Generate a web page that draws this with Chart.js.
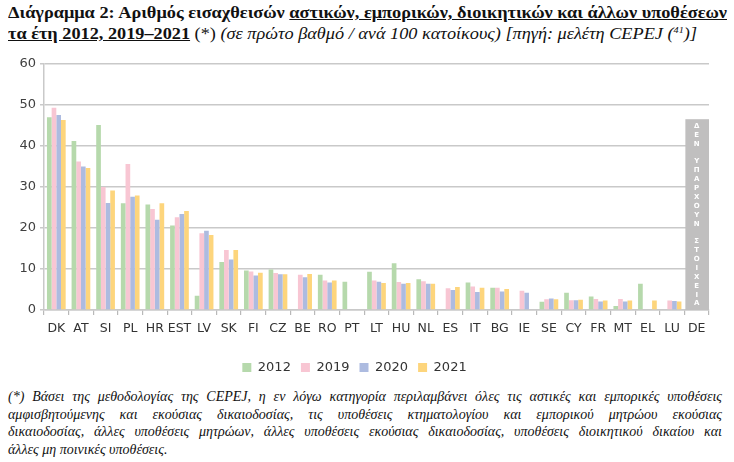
<!DOCTYPE html>
<html>
<head>
<meta charset="utf-8">
<script src="https://cdn.jsdelivr.net/npm/chart.js@4"></script>
<style>
  html,body{margin:0;padding:0;background:#fff;width:734px;height:462px;overflow:hidden;}
  .serif{font-family:"Liberation Serif","Times New Roman",serif;color:#111;}
  .tl{position:absolute;left:8px;white-space:nowrap;font-size:16px;transform-origin:0 0;}
  #t1{top:4px;}
  #t2{top:25px;}
  #t2 sup{font-size:9px;vertical-align:6px;line-height:0;}
  #chartbox{position:absolute;left:0;top:52px;width:734px;height:332px;}
  #foot{position:absolute;left:8px;top:388px;width:714px;font-size:14px;font-style:italic;line-height:17.6px;}
  #foot div{text-align:justify;text-align-last:justify;white-space:nowrap;}
  #foot div.last{text-align-last:left;}
</style>
</head>
<body>
<div id="t1" class="tl serif"><b>Διάγραμμα 2: Αριθμός εισαχθεισών <u>αστικών, εμπορικών, διοικητικών και άλλων υποθέσεων</u></b></div>
<div id="t2" class="tl serif"><b><u>τα έτη 2012, 2019–2021</u></b> (*) <i>(σε πρώτο βαθμό / ανά 100 κατοίκους) [πηγή: μελέτη CEPEJ (<sup>41</sup>)]</i></div>
<div id="chartbox"><canvas id="c"></canvas></div>
<div id="foot" class="serif">
  <div>(*) Βάσει της μεθοδολογίας της CEPEJ, η εν λόγω κατηγορία περιλαμβάνει όλες τις αστικές και εμπορικές υποθέσεις</div>
  <div>αμφισβητούμενης και εκούσιας δικαιοδοσίας, τις υποθέσεις κτηματολογίου και εμπορικού μητρώου εκούσιας</div>
  <div>δικαιοδοσίας, άλλες υποθέσεις μητρώων, άλλες υποθέσεις εκούσιας δικαιοδοσίας, υποθέσεις διοικητικού δικαίου και</div>
  <div class="last">άλλες μη ποινικές υποθέσεις.</div>
</div>
<script>
// ---- data ----
const categories = ["DK","AT","SI","PL","HR","EST","LV","SK","FI","CZ","BE","RO","PT","LT","HU","NL","ES","IT","BG","IE","SE","CY","FR","MT","EL","LU","DE"];
const seriesNames = ["2012","2019","2020","2021"];
const values2012 = [47.0,41.2,45.1,26.0,25.7,20.6,3.5,11.7,9.6,9.9,null,8.6,6.9,9.3,11.4,7.5,null,6.7,5.4,null,2.0,4.2,3.3,1.0,6.4,null,null];
const values2019 = [49.3,36.2,30.0,35.6,24.6,22.6,18.7,14.6,9.4,9.0,8.6,7.2,null,7.2,6.8,7.0,5.3,5.7,5.4,4.7,2.6,2.4,2.7,2.7,null,2.3,null];
const values2020 = [47.5,35.0,26.1,27.6,22.0,23.4,19.3,12.3,8.4,8.7,8.0,6.7,null,6.9,6.4,6.4,4.9,4.4,4.5,4.2,2.8,2.4,2.1,2.1,null,2.2,null];
const values2021 = [46.3,34.6,29.1,27.9,26.0,24.1,18.3,14.6,9.1,8.7,8.8,7.2,null,6.6,6.6,6.4,5.6,5.4,5.1,null,2.6,2.5,2.3,2.3,2.3,2.1,null];
const yTicks = [0,10,20,30,40,50,60];
const noDataCategory = "DE";
const noDataTop = 46.5;
const noDataText = "ΔΕΝ ΥΠΑΡΧΟΥΝ ΣΤΟΙΧΕΙΑ";

const colors = ["#b6d9ac","#f8c6d3","#adbbe0","#fdd57c"];
const allValues = [values2012,values2019,values2020,values2021];

// fit title lines horizontally
function fit(id,w){const el=document.getElementById(id);const nw=el.getBoundingClientRect().width;el.style.transform='scaleX('+(w/nw)+')';}
fit('t1',719); fit('t2',689);

const noDataPlugin = {
  id:'noData',
  afterDatasetsDraw(chart){
    const x = chart.scales.x, y = chart.scales.y, ctx = chart.ctx;
    const i = categories.indexOf(noDataCategory);
    const cw = x.getPixelForValue(1) - x.getPixelForValue(0);
    const cx = x.getPixelForValue(i);
    const top = y.getPixelForValue(noDataTop), bot = y.getPixelForValue(0);
    ctx.save();
    ctx.fillStyle = '#c0bfbf';
    ctx.fillRect(cx - cw/2 + 1, top, cw - 1, bot - top);
    ctx.fillStyle = '#ffffff';
    ctx.font = 'bold 7px "DejaVu Sans"';
    ctx.textAlign = 'center'; ctx.textBaseline = 'middle';
    const step = 8.87;
    [...noDataText].forEach((ch,k)=>{ if(ch!==' ') ctx.fillText(ch, cx, top + 7 + k*step); });
    ctx.restore();
  }
};

new Chart(document.getElementById('c'), {
  type:'bar',
  data:{
    labels:categories,
    datasets: seriesNames.map((n,k)=>({label:n,data:allValues[k],backgroundColor:colors[k],borderWidth:0,barPercentage:1.0,categoryPercentage:0.76}))
  },
  options:{
    responsive:true, maintainAspectRatio:false, animation:false,
    layout:{padding:{left:0,right:25,top:6,bottom:0}},
    plugins:{
      legend:{position:'bottom',labels:{boxWidth:9,boxHeight:9,font:{family:'DejaVu Sans',size:13},color:'#333',padding:10}},
      tooltip:{enabled:false}
    },
    scales:{
      y:{min:0,max:60,
        afterFit(s){s.width=44;},
        afterBuildTicks(s){s.ticks=yTicks.map(v=>({value:v}));},
        ticks:{font:{family:'DejaVu Sans',size:13},color:'#404040',padding:4},
        grid:{color:'#c9c9c9',lineWidth:1.5,tickLength:4},
        border:{color:'#c9c9c9',width:1.5}
      },
      x:{
        afterFit(s){s.height+=9;},
        ticks:{font:{family:'DejaVu Sans',size:12.5},color:'#333',padding:6,autoSkip:false,maxRotation:0},
        grid:{drawOnChartArea:false,color:'#b9b9b9',tickLength:5,lineWidth:1.2},
        border:{color:'#c9c9c9',width:1.5}
      }
    }
  },
  plugins:[noDataPlugin]
});
</script>
</body>
</html>
